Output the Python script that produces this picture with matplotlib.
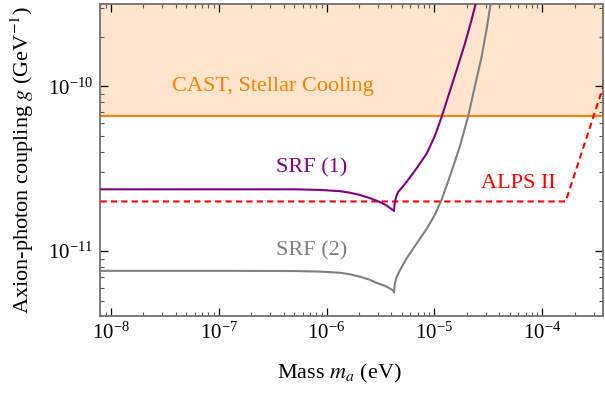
import numpy as np
import matplotlib
matplotlib.use("Agg")
import matplotlib.pyplot as plt
from matplotlib.ticker import LogLocator, NullFormatter

plt.rcParams['font.family'] = ['Liberation Serif', 'DejaVu Serif']
plt.rcParams['mathtext.fontset'] = 'stix'

# axis ranges (eV, GeV^-1)
x_range = [8.0e-9, 3.7e-4]
y_range = [4.03e-12, 3.15e-10]

# CAST / stellar cooling bound
cast_g = 6.6e-11

# ALPS II projection
alps_m = [8.0e-9, 1.65e-4, 4.0e-4]
alps_g = [2.0e-11, 2.0e-11, 1.175e-10]

# SRF (1)
srf1_m = [8.0e-9, 1.0e-7, 5.0e-7, 8.7e-7, 1.33e-6, 1.65e-6, 2.04e-6, 2.5e-6, 2.92e-6, 3.3e-6, 3.6e-6,
          3.9e-6, 4.15e-6, 4.22e-6,
          4.25e-6, 4.30e-6, 4.45e-6, 4.62e-6, 4.8e-6, 5.53e-6, 6.84e-6, 8.47e-6, 1.01e-5, 1.17e-5,
          1.34e-5, 1.61e-5, 1.92e-5, 2.21e-5, 2.42e-5, 2.5e-5]
srf1_g = [2.37e-11, 2.37e-11, 2.37e-11, 2.35e-11, 2.31e-11, 2.26e-11, 2.19e-11, 2.10e-11, 2.02e-11, 1.95e-11, 1.89e-11,
          1.82e-11, 1.77e-11, 1.75e-11,
          1.85e-11, 1.99e-11, 2.16e-11, 2.29e-11, 2.35e-11, 2.63e-11, 3.18e-11, 3.90e-11, 5.00e-11, 6.55e-11,
          8.65e-11, 1.26e-10, 1.82e-10, 2.53e-10, 3.19e-10, 3.5e-10]

# SRF (2)
srf2_m = [8.0e-9, 1.0e-7, 5.0e-7, 8.7e-7, 1.33e-6, 1.65e-6, 2.04e-6, 2.5e-6, 2.92e-6, 3.3e-6, 3.6e-6,
          3.9e-6, 4.15e-6, 4.22e-6,
          4.25e-6, 4.30e-6, 4.45e-6, 4.8e-6, 5.14e-6, 5.53e-6, 6.84e-6, 8.47e-6, 1.01e-5, 1.17e-5,
          1.39e-5, 1.72e-5, 2.06e-5, 2.37e-5, 2.74e-5, 3.04e-5, 3.31e-5, 3.4e-5]
srf2_g = [7.58e-12, 7.58e-12, 7.56e-12, 7.50e-12, 7.38e-12, 7.22e-12, 6.98e-12, 6.70e-12, 6.40e-12, 6.22e-12, 6.08e-12,
          5.90e-12, 5.75e-12, 5.60e-12,
          5.90e-12, 6.37e-12, 6.90e-12, 7.67e-12, 8.30e-12, 9.03e-12, 1.11e-11, 1.36e-11, 1.66e-11, 2.06e-11,
          2.83e-11, 4.30e-11, 6.61e-11, 9.95e-11, 1.51e-10, 2.20e-10, 3.12e-10, 3.5e-10]

orange = '#FF8000'
purple = '#800080'
grey = '#808080'
red = '#FF0000'

fig = plt.figure(figsize=(6.05, 3.95), dpi=100)
ax = fig.add_axes([0.166, 0.2, 0.8315, 0.789])

ax.set_xscale('log')
ax.set_yscale('log')
ax.set_xlim(x_range)
ax.set_ylim(y_range)

ax.axhspan(cast_g, 1e-9, color='#FFE5CC', lw=0, zorder=0)
ax.axhline(cast_g, color=orange, lw=1.5, zorder=2)

ax.plot(alps_m, alps_g, color=red, lw=1.5, ls=(0, (3.0, 2.0)), zorder=3)
ax.plot(srf1_m, srf1_g, color=purple, lw=1.5, zorder=4)
ax.plot(srf2_m, srf2_g, color=grey, lw=1.5, zorder=4)

ax.text(3.16e-7, 1.0e-10, 'CAST, Stellar Cooling', color=orange, fontsize=16, ha='center', va='center')
ax.text(7.2e-7, 3.19e-11, 'SRF (1)', color=purple, fontsize=16, ha='center', va='center')
ax.text(7.2e-7, 1.0e-11, 'SRF (2)', color=grey, fontsize=16, ha='center', va='center')
ax.text(5.97e-5, 2.58e-11, 'ALPS II', color=red, fontsize=16, ha='center', va='center')

ax.set_xlabel('Mass $m_a$ (eV)', fontsize=16)
ax.set_ylabel('Axion-photon coupling $g$ (GeV$^{-1}$)', fontsize=16)
ax.xaxis.set_label_coords(0.476, -0.183)
ax.yaxis.set_label_coords(-0.156, 0.5)
ax.xaxis.label.set_va('center')
ax.yaxis.label.set_va('center')

ax.xaxis.set_major_locator(LogLocator(base=10, numticks=20))
ax.xaxis.set_minor_locator(LogLocator(base=10, subs=np.arange(2, 10), numticks=20))
ax.yaxis.set_major_locator(LogLocator(base=10, numticks=20))
ax.yaxis.set_minor_locator(LogLocator(base=10, subs=np.arange(2, 10), numticks=20))
ax.xaxis.set_minor_formatter(NullFormatter())
ax.yaxis.set_minor_formatter(NullFormatter())

ax.tick_params(which='both', direction='in', top=True, right=True, labelsize=15)
ax.tick_params(which='major', length=6, width=0.9, color='black', pad=5)
ax.tick_params(which='minor', length=3, width=0.8, color='#555555')
for s in ax.spines.values():
    s.set_color('#707070')
    s.set_linewidth(1.3)

fig.savefig('out.png', dpi=100)
